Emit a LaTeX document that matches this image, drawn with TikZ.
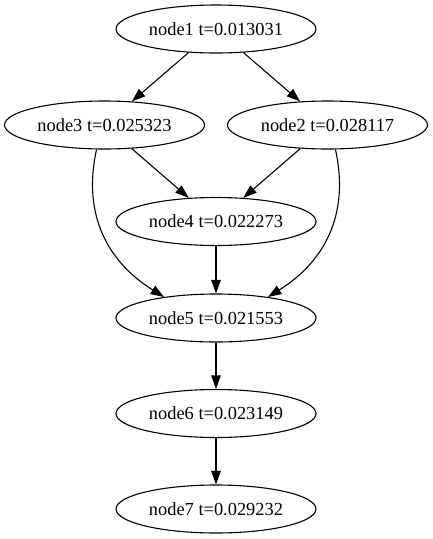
\documentclass[tikz,border=0pt]{standalone}
\usepackage{fontspec}
\setmainfont{Liberation Serif}
\usetikzlibrary{arrows.meta,shapes.geometric}
\begin{document}
\begin{tikzpicture}[x=1pt,y=-1pt,
  task/.style={ellipse, draw, line width=1.1pt, minimum width=200pt,
    minimum height=48pt, inner sep=0pt,
    font=\fontsize{18.4}{22}\selectfont},
  edge/.style={line width=1.1pt, -{Triangle[length=13.5pt,width=9.5pt]}}]
\useasboundingbox (0,0) rectangle (432,539);

% task nodes
\node[task] (n1) at (216,29)    {node1 t=0.013031};
\node[task] (n3) at (104.5,125) {node3 t=0.025323};
\node[task] (n2) at (327.5,125) {node2 t=0.028117};
\node[task] (n4) at (216,221.5) {node4 t=0.022273};
\node[task] (n5) at (216,318)   {node5 t=0.021553};
\node[task] (n6) at (216,413.5) {node6 t=0.023149};
\node[task] (n7) at (216,509)   {node7 t=0.029232};

% dependencies
\draw[edge] (n1) -- (n3);
\draw[edge] (n1) -- (n2);
\draw[edge] (n3) -- (n4);
\draw[edge] (n2) -- (n4);
\draw[edge] (n4) -- (n5);
\draw[edge] (n3.-108) .. controls (82,215) and (108,262) .. (n5.158);
\draw[edge] (n2.-72) .. controls (350,215) and (324,262) .. (n5.22);
\draw[edge] (n5) -- (n6);
\draw[edge] (n6) -- (n7);
\end{tikzpicture}
\end{document}
